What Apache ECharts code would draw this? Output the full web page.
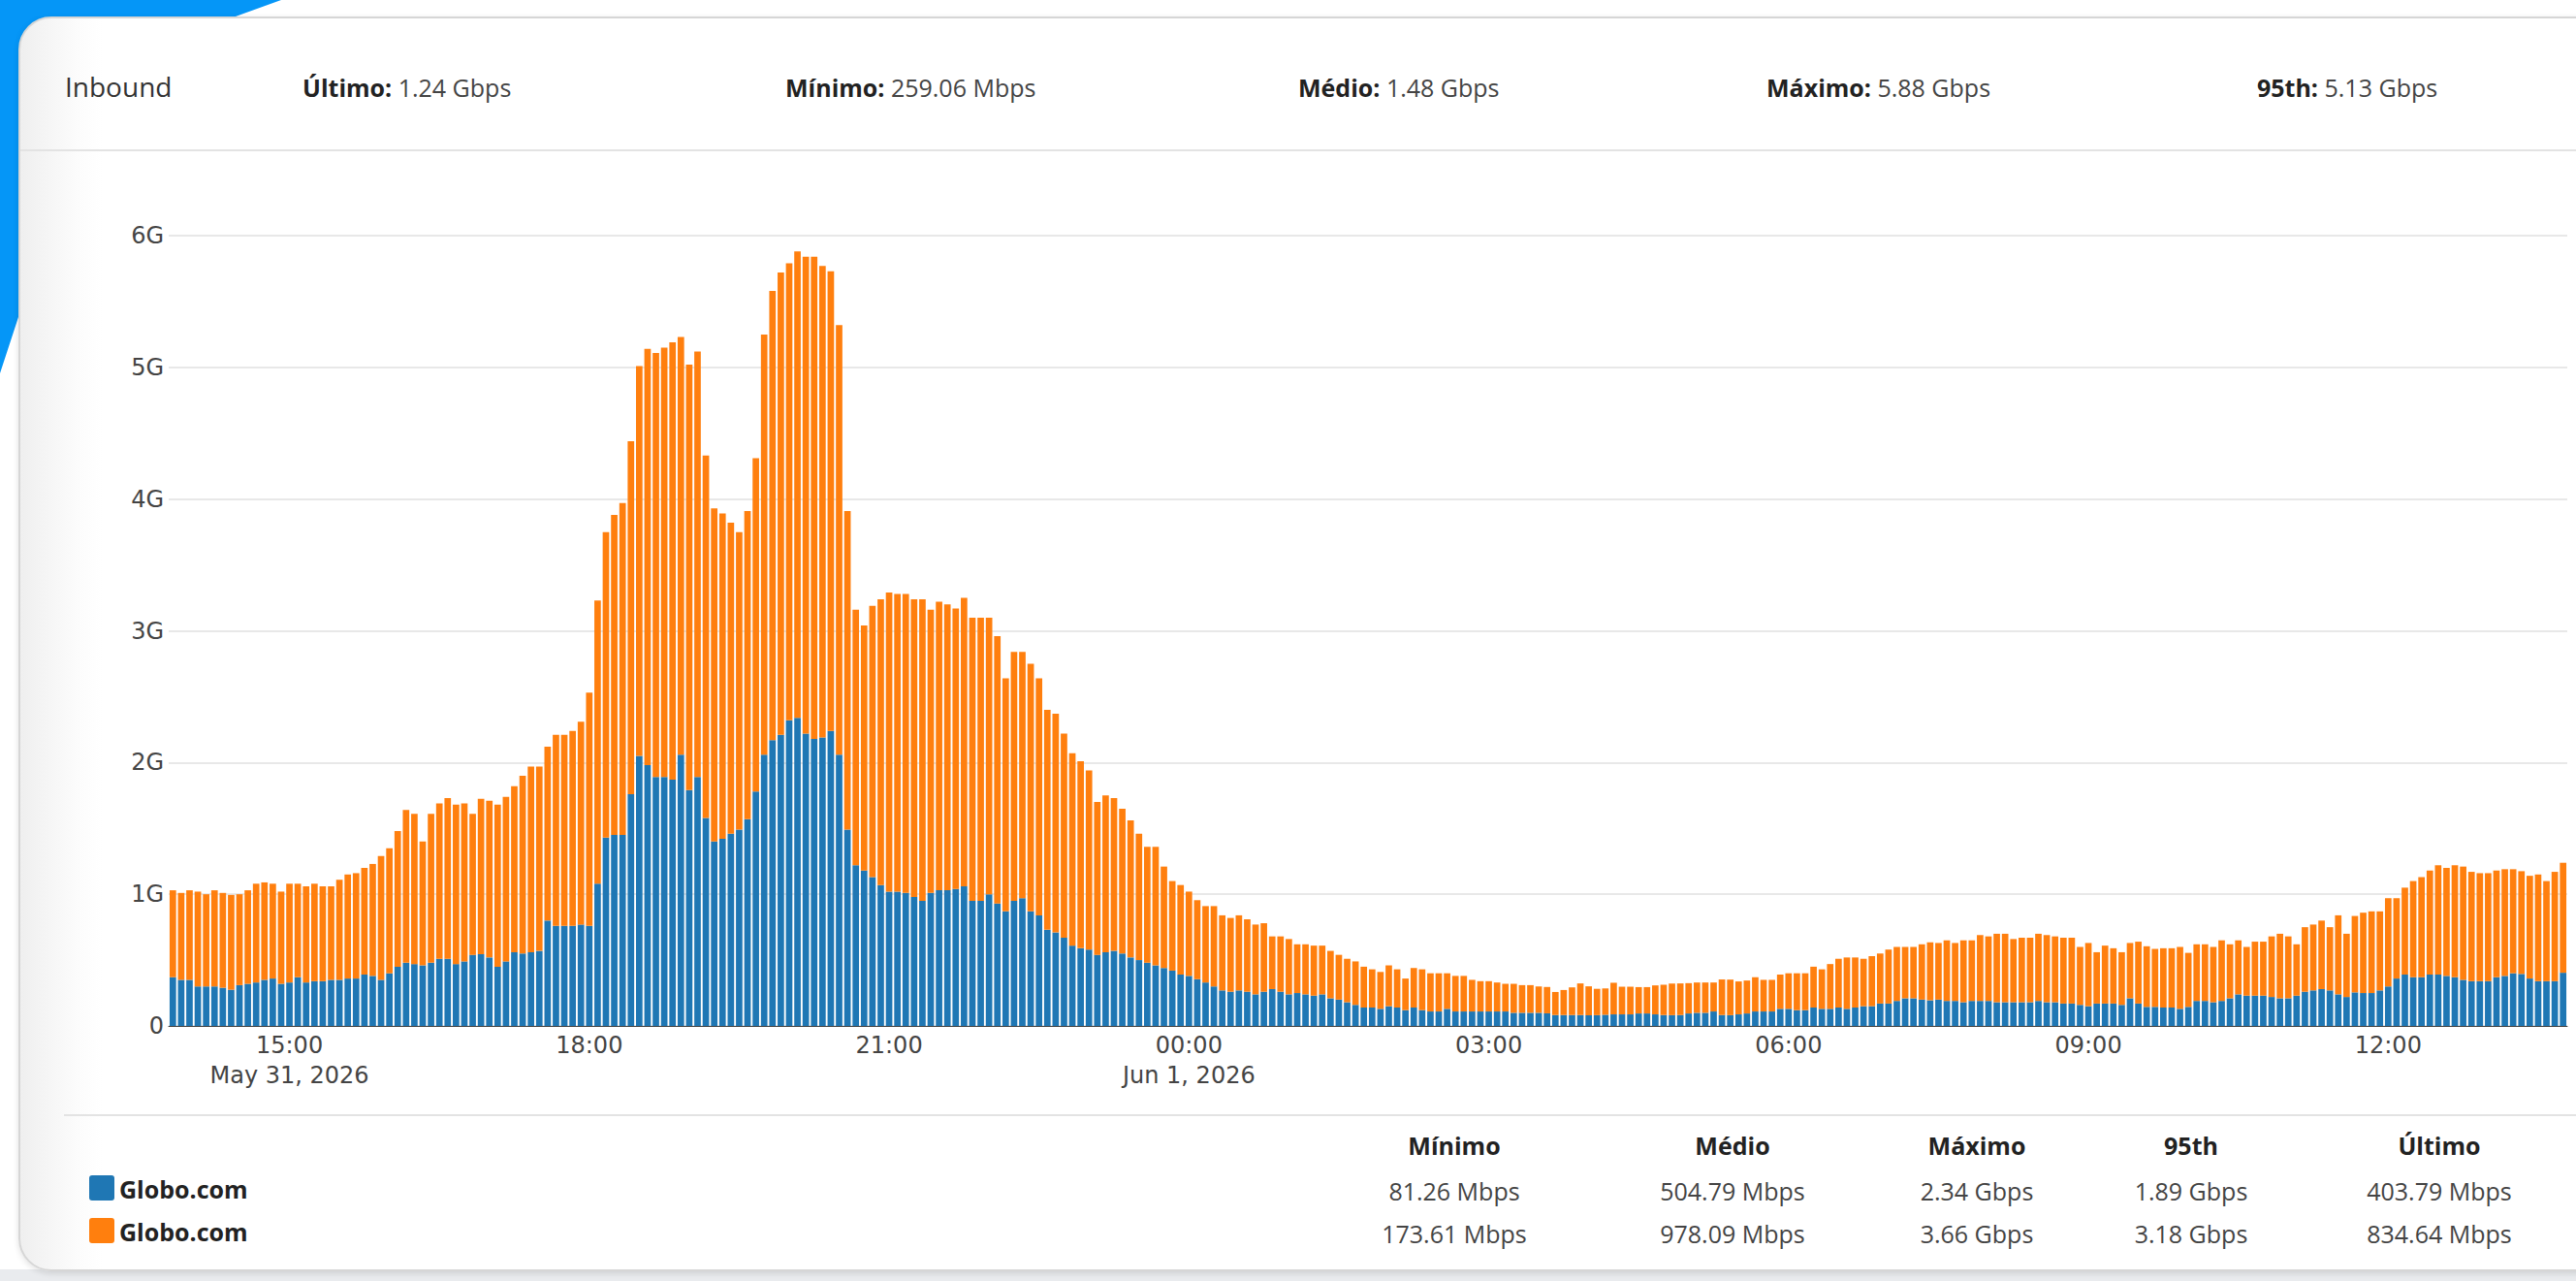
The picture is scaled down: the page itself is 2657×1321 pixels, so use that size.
<!DOCTYPE html>
<html>
<head>
<meta charset="utf-8">
<script src="https://cdn.jsdelivr.net/npm/echarts@6/dist/echarts.min.js"></script>
<style>
html,body{margin:0;padding:0;width:2657px;height:1321px;overflow:hidden;background:#ffffff;font-family:"Open Sans","Noto Sans",sans-serif;}
#blue{position:absolute;left:0;top:0;width:420px;height:420px;background:#0596f7;clip-path:polygon(0 0,290px 0,243px 17px,60px 200px,18px 330px,0 385px);}
#bottomband{position:absolute;left:0;top:1309px;width:2657px;height:12px;background:#e9ebee;}
#card{position:absolute;left:19px;top:17px;width:2700px;height:1290px;background:linear-gradient(to right,#efefef 0px,#f7f7f7 35px,#fcfcfc 60px,#ffffff 85px);border:2px solid #d6d6d6;border-radius:34px 0 0 34px;box-shadow:0 2px 6px rgba(0,0,0,0.12);}
.sep{position:absolute;height:2px;background:#e3e3e3;}
#chart{position:absolute;left:0;top:0;width:2657px;height:1321px;z-index:2;}
.txt{position:absolute;z-index:3;white-space:nowrap;color:#444;font-size:25px;line-height:34px;}
.txt b{color:#222;font-weight:700;}
.col{position:absolute;z-index:3;white-space:nowrap;font-size:25px;line-height:34px;width:240px;text-align:center;color:#444;}
.col.h{font-weight:700;color:#222;}
.sw{position:absolute;z-index:3;width:26px;height:26px;border-radius:3px;}
.lg{position:absolute;z-index:3;font-weight:700;color:#222;font-size:25px;line-height:34px;}
</style>
</head>
<body>
<div id="blue"></div>
<div id="bottomband"></div>
<div id="card"></div>
<div class="sep" style="left:21px;top:154px;width:2640px;"></div>
<div class="sep" style="left:66px;top:1149px;width:2600px;"></div>
<div id="chart"></div>
<div id="header"></div>
<div id="table"></div>
<script>
// ---- data (Gbps), one bar every 5 minutes starting 13:50, May 31, 2026 ----
const startHour = 13, startMinute = 50, stepMinutes = 5;

const blueValues = [
0.37,0.35,0.35,0.30,0.30,0.30,0.29,0.275,0.31,0.32,
0.33,0.35,0.36,0.32,0.33,0.37,0.33,0.34,0.34,0.35,
0.35,0.36,0.36,0.39,0.38,0.35,0.40,0.45,0.48,0.47,
0.46,0.48,0.51,0.51,0.47,0.49,0.54,0.545,0.52,0.45,
0.49,0.56,0.55,0.56,0.57,0.80,0.76,0.76,0.76,0.77,
0.76,1.08,1.43,1.45,1.45,1.76,2.05,1.98,1.89,1.89,
1.87,2.06,1.79,1.89,1.58,1.40,1.42,1.46,1.49,1.57,
1.78,2.06,2.17,2.21,2.32,2.34,2.22,2.18,2.19,2.24,
2.06,1.49,1.22,1.18,1.13,1.07,1.02,1.02,1.01,0.98,
0.95,1.01,1.03,1.03,1.04,1.06,0.95,0.95,1.00,0.93,
0.87,0.95,0.97,0.87,0.84,0.73,0.71,0.67,0.61,0.59,
0.58,0.54,0.56,0.57,0.55,0.52,0.50,0.48,0.46,0.44,
0.42,0.39,0.38,0.355,0.33,0.30,0.27,0.26,0.27,0.26,
0.24,0.26,0.28,0.26,0.24,0.25,0.24,0.23,0.24,0.21,
0.20,0.18,0.16,0.14,0.14,0.13,0.15,0.14,0.12,0.14,
0.12,0.11,0.11,0.13,0.11,0.11,0.11,0.11,0.11,0.11,
0.11,0.10,0.10,0.10,0.10,0.096,0.083,0.083,0.083,0.083,
0.081,0.082,0.085,0.088,0.088,0.088,0.095,0.095,0.088,0.083,
0.082,0.083,0.095,0.10,0.10,0.11,0.083,0.082,0.088,0.095,
0.11,0.11,0.11,0.13,0.13,0.12,0.12,0.14,0.13,0.13,
0.14,0.13,0.14,0.15,0.15,0.17,0.17,0.19,0.21,0.21,
0.20,0.195,0.20,0.19,0.19,0.18,0.19,0.19,0.19,0.18,
0.18,0.18,0.18,0.18,0.19,0.18,0.18,0.17,0.17,0.16,
0.15,0.17,0.17,0.17,0.16,0.21,0.17,0.145,0.145,0.14,
0.14,0.13,0.145,0.19,0.19,0.18,0.19,0.21,0.24,0.23,
0.23,0.23,0.22,0.21,0.21,0.23,0.26,0.27,0.28,0.27,
0.24,0.22,0.255,0.25,0.25,0.27,0.30,0.36,0.39,0.37,
0.37,0.39,0.39,0.38,0.37,0.35,0.34,0.34,0.34,0.37,
0.38,0.40,0.395,0.36,0.34,0.34,0.34,0.404
];

const orangeValues = [
0.66,0.66,0.68,0.72,0.70,0.73,0.72,0.72,0.69,0.71,
0.75,0.74,0.72,0.70,0.75,0.71,0.73,0.74,0.72,0.71,
0.76,0.79,0.80,0.81,0.85,0.94,0.95,1.03,1.16,1.14,
0.94,1.13,1.18,1.22,1.21,1.20,1.07,1.18,1.19,1.23,
1.25,1.26,1.35,1.41,1.40,1.32,1.45,1.45,1.48,1.54,
1.77,2.15,2.32,2.43,2.52,2.68,2.96,3.16,3.22,3.26,
3.32,3.17,3.23,3.23,2.75,2.53,2.47,2.36,2.26,2.34,
2.53,3.19,3.41,3.51,3.47,3.54,3.62,3.66,3.58,3.49,
3.26,2.42,1.94,1.86,2.06,2.17,2.27,2.26,2.27,2.26,
2.29,2.15,2.19,2.17,2.13,2.19,2.15,2.15,2.10,2.03,
1.77,1.89,1.87,1.88,1.80,1.67,1.66,1.55,1.46,1.42,
1.36,1.16,1.19,1.16,1.10,1.04,0.96,0.88,0.90,0.77,
0.68,0.68,0.64,0.60,0.58,0.61,0.57,0.56,0.57,0.55,
0.53,0.52,0.40,0.42,0.42,0.37,0.38,0.38,0.37,0.36,
0.34,0.33,0.33,0.31,0.29,0.28,0.31,0.29,0.24,0.30,
0.31,0.29,0.29,0.27,0.27,0.27,0.24,0.23,0.23,0.22,
0.21,0.22,0.21,0.21,0.20,0.20,0.175,0.19,0.21,0.24,
0.22,0.20,0.20,0.24,0.21,0.21,0.20,0.20,0.22,0.23,
0.24,0.24,0.23,0.23,0.23,0.22,0.27,0.27,0.25,0.25,
0.26,0.24,0.24,0.26,0.27,0.28,0.28,0.31,0.30,0.34,
0.37,0.39,0.38,0.36,0.38,0.38,0.41,0.41,0.39,0.39,
0.42,0.44,0.43,0.46,0.44,0.47,0.46,0.50,0.49,0.52,
0.52,0.48,0.49,0.49,0.51,0.51,0.50,0.50,0.50,0.44,
0.48,0.39,0.44,0.42,0.40,0.42,0.47,0.46,0.44,0.45,
0.45,0.47,0.41,0.43,0.43,0.42,0.46,0.41,0.41,0.37,
0.41,0.41,0.46,0.49,0.47,0.39,0.49,0.50,0.52,0.48,
0.60,0.48,0.58,0.61,0.62,0.60,0.67,0.61,0.66,0.73,
0.76,0.79,0.83,0.82,0.85,0.86,0.83,0.82,0.82,0.81,
0.81,0.79,0.78,0.78,0.81,0.76,0.83,0.835
];

const seriesNames = ['Globo.com', 'Globo.com'];
const seriesColors = ['#1f77b4', '#ff7f0e'];

const tickLabels = ['15:00','18:00','21:00','00:00','03:00','06:00','09:00','12:00'];
const tickDates = {'15:00': 'May 31, 2026', '00:00': 'Jun 1, 2026'};
const yTickLabels = ['0','1G','2G','3G','4G','5G','6G'];

const headerTitle = 'Inbound';
const headerLabels = ['Último:', 'Mínimo:', 'Médio:', 'Máximo:', '95th:'];
const headerValues = ['1.24 Gbps', '259.06 Mbps', '1.48 Gbps', '5.88 Gbps', '5.13 Gbps'];

const tableColumns = ['Mínimo', 'Médio', 'Máximo', '95th', 'Último'];
const tableRowBlue = ['81.26 Mbps', '504.79 Mbps', '2.34 Gbps', '1.89 Gbps', '403.79 Mbps'];
const tableRowOrange = ['173.61 Mbps', '978.09 Mbps', '3.66 Gbps', '3.18 Gbps', '834.64 Mbps'];

// ---- categories ----
const categories = [];
for (let i = 0; i < blueValues.length; i++) {
  const t = startHour * 60 + startMinute + i * stepMinutes;
  const h = Math.floor(t / 60) % 24, m = t % 60;
  categories.push(String(h).padStart(2, '0') + ':' + String(m).padStart(2, '0'));
}

// ---- HTML header / table ----
const headerX = [312, 810, 1339, 1822, 2328];
let hh = '<div class="txt" style="left:67px;top:72px;font-size:28px;color:#333;">' + headerTitle + '</div>';
headerLabels.forEach((l, i) => {
  hh += '<div class="txt" style="left:' + headerX[i] + 'px;top:73px;"><b>' + l + '</b> ' + headerValues[i] + '</div>';
});
document.getElementById('header').innerHTML = hh;

const colX = [1500, 1787, 2039, 2260, 2516];
let th = '';
tableColumns.forEach((c, i) => {
  th += '<div class="col h" style="left:' + (colX[i] - 120) + 'px;top:1164px;">' + c + '</div>';
  th += '<div class="col" style="left:' + (colX[i] - 120) + 'px;top:1211px;">' + tableRowBlue[i] + '</div>';
  th += '<div class="col" style="left:' + (colX[i] - 120) + 'px;top:1255px;">' + tableRowOrange[i] + '</div>';
});
th += '<div class="sw" style="left:92px;top:1212px;background:' + seriesColors[0] + ';"></div>';
th += '<div class="lg" style="left:123px;top:1209px;">' + seriesNames[0] + '</div>';
th += '<div class="sw" style="left:92px;top:1256px;background:' + seriesColors[1] + ';"></div>';
th += '<div class="lg" style="left:123px;top:1253px;">' + seriesNames[1] + '</div>';
document.getElementById('table').innerHTML = th;

// ---- chart ----
const chart = echarts.init(document.getElementById('chart'), null, {renderer: 'svg'});
chart.setOption({
  animation: false,
  backgroundColor: 'transparent',
  grid: {left: 174, right: 9, top: 243, bottom: 263, containLabel: false},
  xAxis: {
    type: 'category',
    data: categories,
    axisTick: {show: false},
    axisLine: {show: true, lineStyle: {color: '#444', width: 1}},
    axisLabel: {
      interval: (idx, val) => tickLabels.indexOf(val) >= 0,
      formatter: (val) => tickDates[val] ? val + '\n' + tickDates[val] : val,
      color: '#444',
      fontFamily: 'DejaVu Sans',
      fontSize: 24,
      lineHeight: 31,
      margin: 4
    },
    splitLine: {show: false}
  },
  yAxis: {
    type: 'value',
    min: 0, max: 6, interval: 1,
    axisLine: {show: false},
    axisTick: {show: false},
    axisLabel: {
      formatter: (v) => yTickLabels[Math.round(v)],
      color: '#444',
      fontFamily: 'DejaVu Sans',
      fontSize: 24,
      margin: 5
    },
    splitLine: {lineStyle: {color: '#e8e8e8', width: 2}}
  },
  series: [
    {name: seriesNames[0], type: 'bar', stack: 'total', data: blueValues,
     itemStyle: {color: seriesColors[0]}, barCategoryGap: '22%'},
    {name: seriesNames[1], type: 'bar', stack: 'total', data: orangeValues,
     itemStyle: {color: seriesColors[1]}, barCategoryGap: '22%'}
  ]
});
</script>
</body>
</html>
